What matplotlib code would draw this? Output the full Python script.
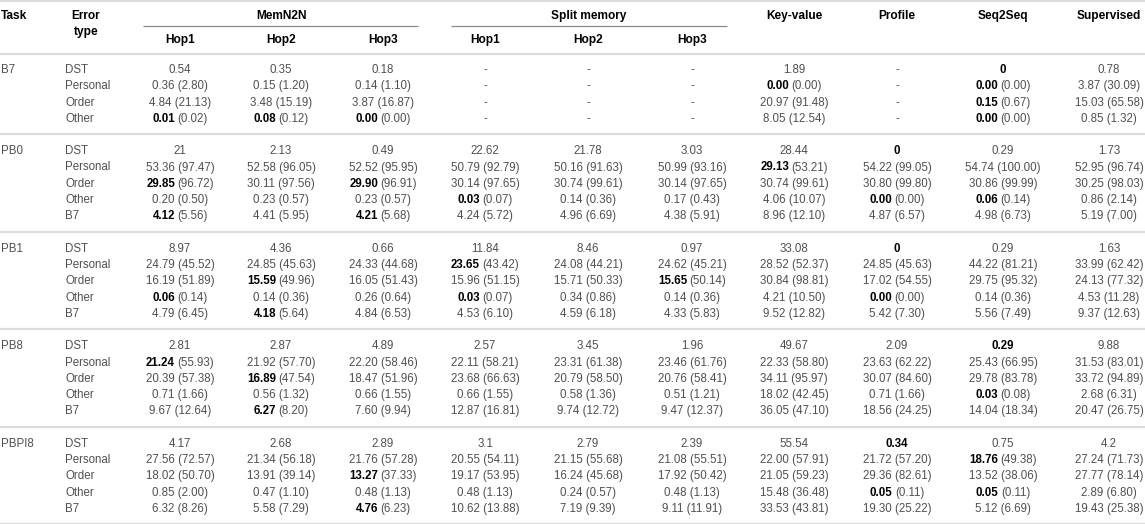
import matplotlib
matplotlib.use("Agg")
import matplotlib.pyplot as plt

plt.rcParams['font.family'] = ['Liberation Sans', 'DejaVu Sans']

# ---------------- data ----------------
# '*' prefix marks the bold (best) part of a cell
group_names = ["MemN2N", "Split memory"]
hop_labels = ["Hop1", "Hop2", "Hop3"]
single_cols = ["Key-value", "Profile", "Seq2Seq", "Supervised"]
tasks = ["B7", "PB0", "PB1", "PB8", "PBPI8"]

B7_types = ["DST", "Personal", "Order", "Other"]
PB_types = ["DST", "Personal", "Order", "Other", "B7"]

B7_rows = [
    ["0.54", "0.35", "0.18", "-", "-", "-", "1.89", "-", "*0", "0.78"],
    ["0.36 (2.80)", "0.15 (1.20)", "0.14 (1.10)", "-", "-", "-", "*0.00 (0.00)", "-", "*0.00 (0.00)", "3.87 (30.09)"],
    ["4.84 (21.13)", "3.48 (15.19)", "3.87 (16.87)", "-", "-", "-", "20.97 (91.48)", "-", "*0.15 (0.67)", "15.03 (65.58)"],
    ["*0.01 (0.02)", "*0.08 (0.12)", "*0.00 (0.00)", "-", "-", "-", "8.05 (12.54)", "-", "*0.00 (0.00)", "0.85 (1.32)"],
]
PB0_rows = [
    ["21", "2.13", "0.49", "22.62", "21.78", "3.03", "28.44", "*0", "0.29", "1.73"],
    ["53.36 (97.47)", "52.58 (96.05)", "52.52 (95.95)", "50.79 (92.79)", "50.16 (91.63)", "50.99 (93.16)", "*29.13 (53.21)", "54.22 (99.05)", "54.74 (100.00)", "52.95 (96.74)"],
    ["*29.85 (96.72)", "30.11 (97.56)", "*29.90 (96.91)", "30.14 (97.65)", "30.74 (99.61)", "30.14 (97.65)", "30.74 (99.61)", "30.80 (99.80)", "30.86 (99.99)", "30.25 (98.03)"],
    ["0.20 (0.50)", "0.23 (0.57)", "0.23 (0.57)", "*0.03 (0.07)", "0.14 (0.36)", "0.17 (0.43)", "4.06 (10.07)", "*0.00 (0.00)", "*0.06 (0.14)", "0.86 (2.14)"],
    ["*4.12 (5.56)", "4.41 (5.95)", "*4.21 (5.68)", "4.24 (5.72)", "4.96 (6.69)", "4.38 (5.91)", "8.96 (12.10)", "4.87 (6.57)", "4.98 (6.73)", "5.19 (7.00)"],
]
PB1_rows = [
    ["8.97", "4.36", "0.66", "11.84", "8.46", "0.97", "33.08", "*0", "0.29", "1.63"],
    ["24.79 (45.52)", "24.85 (45.63)", "24.33 (44.68)", "*23.65 (43.42)", "24.08 (44.21)", "24.62 (45.21)", "28.52 (52.37)", "24.85 (45.63)", "44.22 (81.21)", "33.99 (62.42)"],
    ["16.19 (51.89)", "*15.59 (49.96)", "16.05 (51.43)", "15.96 (51.15)", "15.71 (50.33)", "*15.65 (50.14)", "30.84 (98.81)", "17.02 (54.55)", "29.75 (95.32)", "24.13 (77.32)"],
    ["*0.06 (0.14)", "0.14 (0.36)", "0.26 (0.64)", "*0.03 (0.07)", "0.34 (0.86)", "0.14 (0.36)", "4.21 (10.50)", "*0.00 (0.00)", "0.14 (0.36)", "4.53 (11.28)"],
    ["4.79 (6.45)", "*4.18 (5.64)", "4.84 (6.53)", "4.53 (6.10)", "4.59 (6.18)", "4.33 (5.83)", "9.52 (12.82)", "5.42 (7.30)", "5.56 (7.49)", "9.37 (12.63)"],
]
PB8_rows = [
    ["2.81", "2.87", "4.89", "2.57", "3.45", "1.96", "49.67", "2.09", "*0.29", "9.88"],
    ["*21.24 (55.93)", "21.92 (57.70)", "22.20 (58.46)", "22.11 (58.21)", "23.31 (61.38)", "23.46 (61.76)", "22.33 (58.80)", "23.63 (62.22)", "25.43 (66.95)", "31.53 (83.01)"],
    ["20.39 (57.38)", "*16.89 (47.54)", "18.47 (51.96)", "23.68 (66.63)", "20.79 (58.50)", "20.76 (58.41)", "34.11 (95.97)", "30.07 (84.60)", "29.78 (83.78)", "33.72 (94.89)"],
    ["0.71 (1.66)", "0.56 (1.32)", "0.66 (1.55)", "0.66 (1.55)", "0.58 (1.36)", "0.51 (1.21)", "18.02 (42.45)", "0.71 (1.66)", "*0.03 (0.08)", "2.68 (6.31)"],
    ["9.67 (12.64)", "*6.27 (8.20)", "7.60 (9.94)", "12.87 (16.81)", "9.74 (12.72)", "9.47 (12.37)", "36.05 (47.10)", "18.56 (24.25)", "14.04 (18.34)", "20.47 (26.75)"],
]
PBPI8_rows = [
    ["4.17", "2.68", "2.89", "3.1", "2.79", "2.39", "55.54", "*0.34", "0.75", "4.2"],
    ["27.56 (72.57)", "21.34 (56.18)", "21.76 (57.28)", "20.55 (54.11)", "21.15 (55.68)", "21.08 (55.51)", "22.00 (57.91)", "21.72 (57.20)", "*18.76 (49.38)", "27.24 (71.73)"],
    ["18.02 (50.70)", "13.91 (39.14)", "*13.27 (37.33)", "19.17 (53.95)", "16.24 (45.68)", "17.92 (50.42)", "21.05 (59.23)", "29.36 (82.61)", "13.52 (38.06)", "27.77 (78.14)"],
    ["0.85 (2.00)", "0.47 (1.10)", "0.48 (1.13)", "0.48 (1.13)", "0.24 (0.57)", "0.48 (1.13)", "15.48 (36.48)", "*0.05 (0.11)", "*0.05 (0.11)", "2.89 (6.80)"],
    ["6.32 (8.26)", "5.58 (7.29)", "*4.76 (6.23)", "10.62 (13.88)", "7.19 (9.39)", "9.11 (11.91)", "33.53 (43.81)", "19.30 (25.22)", "5.12 (6.69)", "19.43 (25.38)"],
]

groups = [
    ("B7", B7_types, B7_rows),
    ("PB0", PB_types, PB0_rows),
    ("PB1", PB_types, PB1_rows),
    ("PB8", PB_types, PB8_rows),
    ("PBPI8", PB_types, PBPI8_rows),
]

# ---------------- layout ----------------
W, H = 1145, 524
fig = plt.figure(figsize=(W / 100, H / 100), dpi=100)
ax = fig.add_axes([0, 0, 1, 1])
ax.set_xlim(0, W)
ax.set_ylim(H, 0)
ax.axis('off')

col_x = [180, 281, 383, 485, 588, 692, 794, 897, 1003, 1109]
task_x = 1
type_x = 65
err_x = 86

FS = 8.3
HFS = 8.6
GRAY = '#505050'
LINE = '#dcdcdc'

renderer = fig.canvas.get_renderer()

def width_of(t):
    return t.get_window_extent(renderer=renderer).width

def cell(cx, y, s):
    if s.startswith('*'):
        body = s[1:]
        if ' ' in body:
            b, rest = body.split(' ', 1)
            t1 = ax.text(0, y, b, fontsize=FS, fontweight='bold', color='black',
                         ha='left', va='center')
            t2 = ax.text(0, y, rest, fontsize=FS, color=GRAY, ha='left', va='center')
            w1, w2 = width_of(t1), width_of(t2)
            gap = FS * 0.2 * 100 / 72
            x0 = cx - (w1 + gap + w2) / 2
            t1.set_x(x0)
            t2.set_x(x0 + w1 + gap)
        else:
            ax.text(cx, y, body, fontsize=FS, fontweight='bold', color='black',
                    ha='center', va='center')
    else:
        ax.text(cx, y, s, fontsize=FS, color=GRAY, ha='center', va='center')

# header
hy1, hy2 = 16, 40
ax.text(task_x, hy1, "Task", fontsize=HFS, fontweight='bold', ha='left', va='center')
ax.text(err_x, hy1, "Error", fontsize=HFS, fontweight='bold', ha='center', va='center')
ax.text(err_x, 32, "type", fontsize=HFS, fontweight='bold', ha='center', va='center')
ax.text((col_x[0] + col_x[2]) / 2, hy1, group_names[0], fontsize=HFS, fontweight='bold',
        ha='center', va='center')
ax.text((col_x[3] + col_x[5]) / 2, hy1, group_names[1], fontsize=HFS, fontweight='bold',
        ha='center', va='center')
ax.plot([143, 418], [26, 26], color='#8a8a8a', lw=0.9, solid_capstyle='butt')
ax.plot([451, 727], [26, 26], color='#8a8a8a', lw=0.9, solid_capstyle='butt')
for i, h in enumerate(hop_labels):
    ax.text(col_x[i], hy2, h, fontsize=HFS, fontweight='bold', ha='center', va='center')
    ax.text(col_x[3 + i], hy2, h, fontsize=HFS, fontweight='bold', ha='center', va='center')
for j, name in enumerate(single_cols):
    ax.text(col_x[6 + j], hy1, name, fontsize=HFS, fontweight='bold', ha='center', va='center')

# horizontal rules
ax.plot([0, W], [1.2, 1.2], color=LINE, lw=1.6)
ax.plot([0, W], [54, 54], color=LINE, lw=1.6)

row_step = 16.3
y = 70.0
for gi, (task, types, rows) in enumerate(groups):
    ax.text(task_x, y, task, fontsize=FS, color=GRAY, ha='left', va='center')
    for ri, (et, vals) in enumerate(zip(types, rows)):
        yy = y + ri * row_step
        ax.text(type_x, yy, et, fontsize=FS, color=GRAY, ha='left', va='center')
        for cx, v in zip(col_x, vals):
            cell(cx, yy, v)
    last = y + (len(rows) - 1) * row_step
    sep = last + 15.5
    ax.plot([0, W], [sep, sep], color=LINE, lw=1.6)
    y = sep + 16.8

fig.savefig("out.png", dpi=100)
